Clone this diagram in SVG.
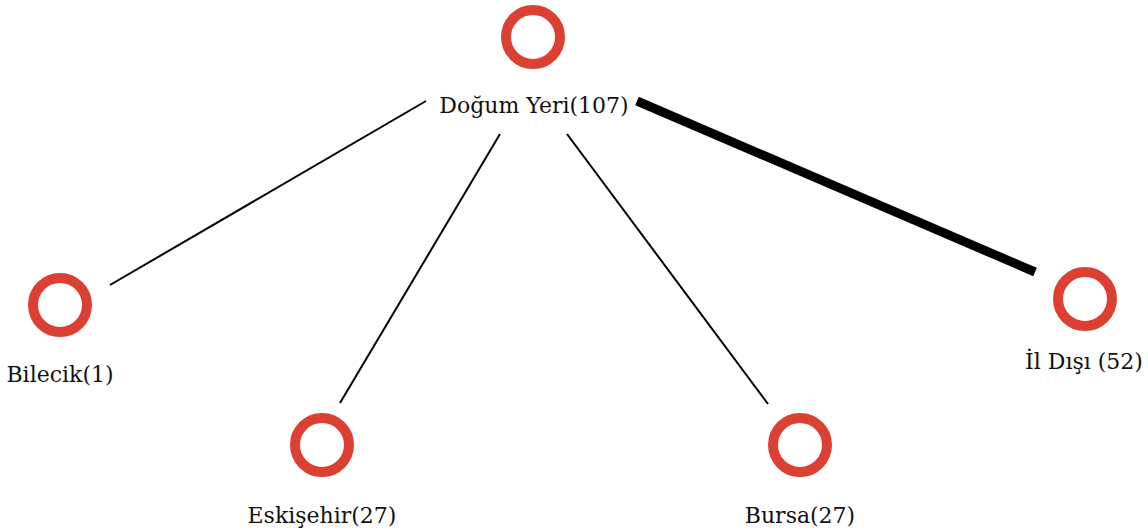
<svg xmlns="http://www.w3.org/2000/svg" width="1148" height="531" viewBox="0 0 1148 531">
<style>
.node circle{fill:none;stroke:#db4032;stroke-width:10}
.node text{font-family:"DejaVu Serif","Liberation Serif",serif;font-size:22px;fill:#111;text-anchor:middle}
.edge{stroke:#000;stroke-width:2;fill:none}
.edge.thick{stroke-width:9}
</style>
<rect width="1148" height="531" fill="#fff"/>
<g id="edges">
<line class="edge" x1="110" y1="285" x2="426" y2="101"/>
<line class="edge" x1="340" y1="403" x2="500" y2="134"/>
<line class="edge" x1="567" y1="134" x2="768" y2="404"/>
<line class="edge thick" x1="637" y1="101" x2="1035" y2="272"/>
</g>
<g id="node-dogum" class="node"><circle cx="533" cy="37" r="27"/><text x="534" y="113">Doğum Yeri(107)</text></g>
<g id="node-bilecik" class="node"><circle cx="60" cy="305" r="27"/><text x="60" y="382">Bilecik(1)</text></g>
<g id="node-eskisehir" class="node"><circle cx="322" cy="445" r="27"/><text x="322" y="523">Eskişehir(27)</text></g>
<g id="node-bursa" class="node"><circle cx="800" cy="445" r="27"/><text x="800" y="523">Bursa(27)</text></g>
<g id="node-ildisi" class="node"><circle cx="1085" cy="299" r="27"/><text x="1084" y="369">İl Dışı (52)</text></g>
</svg>
